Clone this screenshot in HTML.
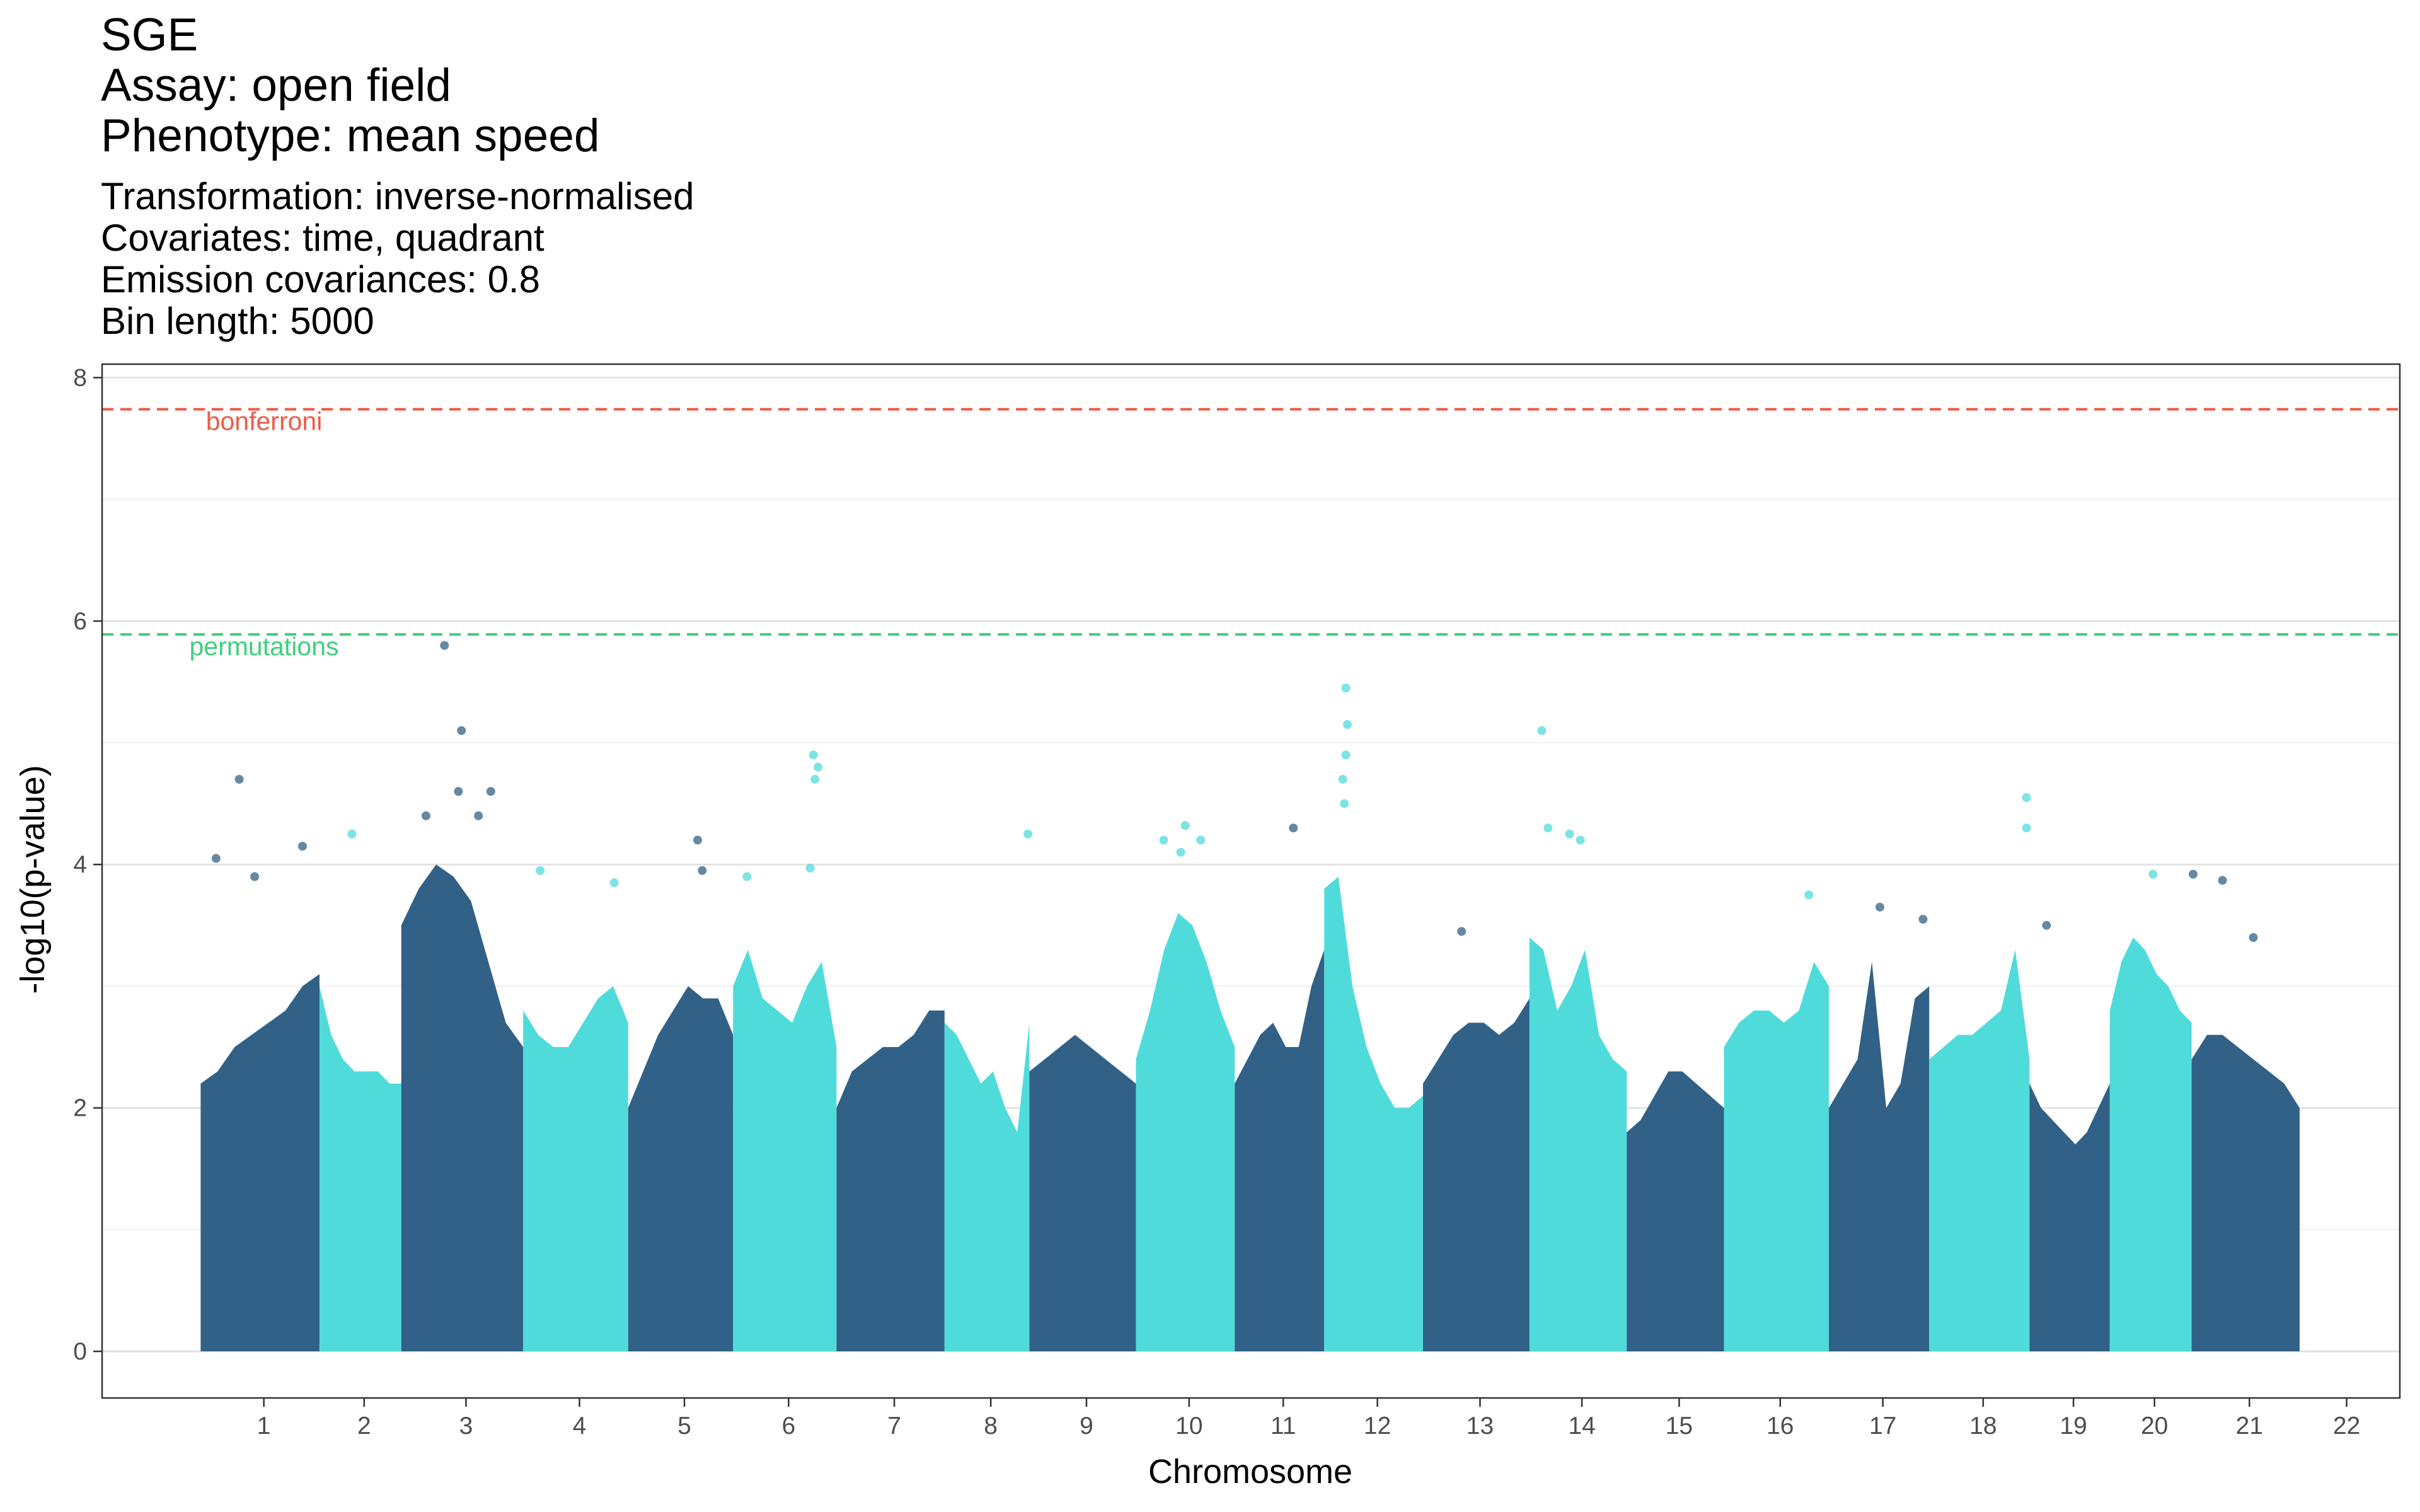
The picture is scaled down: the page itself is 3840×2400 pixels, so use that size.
<!DOCTYPE html>
<html><head><meta charset="utf-8">
<style>
html,body{margin:0;padding:0;background:#fff;}
svg{display:block;font-family:"Liberation Sans",Arial,sans-serif;}
</style></head>
<body>
<svg id="chart" width="3840" height="2400" viewBox="0 0 3840 2400" xmlns="http://www.w3.org/2000/svg">
<rect width="3840" height="2400" fill="#fff"/>
<g fill="#000">
<text x="160" y="80" font-size="73">SGE</text>
<text x="160" y="160" font-size="73">Assay: open field</text>
<text x="160" y="240" font-size="73">Phenotype: mean speed</text>
<text x="160" y="332" font-size="60">Transformation: inverse-normalised</text>
<text x="160" y="398" font-size="60">Covariates: time, quadrant</text>
<text x="160" y="464" font-size="60">Emission covariances: 0.8</text>
<text x="160" y="530" font-size="60">Bin length: 5000</text>
</g>
<g id="grid"></g>
<g id="marks"></g>
<g id="thresholds"></g>
<rect x="162" y="578" width="3646" height="1641" fill="none" stroke="#333" stroke-width="2.5"/>
<g id="axes"></g>
<text transform="translate(70,1396) rotate(-90)" text-anchor="middle" font-size="54">-log10(p-value)</text>
<text x="1984" y="2354" text-anchor="middle" font-size="54">Chromosome</text>
</svg>
<script>
const chromosomes = ["1","2","3","4","5","6","7","8","9","10","11","12","13","14","15","16","17","18","19","20","21"];
const chromLengths = [77,53,79,68,68,67,70,55,69,64,58,64,69,63,63,68,65,65,52,53,70];
const profiles = [
 [2.2,2.3,2.5,2.6,2.7,2.8,3.0,3.1],
 [3.0,2.6,2.4,2.3,2.3,2.3,2.2,2.2],
 [3.5,3.8,4.0,3.9,3.7,3.2,2.7,2.5],
 [2.8,2.6,2.5,2.5,2.7,2.9,3.0,2.7],
 [2.0,2.3,2.6,2.8,3.0,2.9,2.9,2.6],
 [3.0,3.3,2.9,2.8,2.7,3.0,3.2,2.5],
 [2.0,2.3,2.4,2.5,2.5,2.6,2.8,2.8],
 [2.7,2.6,2.4,2.2,2.3,2.0,1.8,2.7],
 [2.3,2.4,2.5,2.6,2.5,2.4,2.3,2.2],
 [2.4,2.8,3.3,3.6,3.5,3.2,2.8,2.5],
 [2.2,2.4,2.6,2.7,2.5,2.5,3.0,3.3],
 [3.8,3.9,3.0,2.5,2.2,2.0,2.0,2.1],
 [2.2,2.4,2.6,2.7,2.7,2.6,2.7,2.9],
 [3.4,3.3,2.8,3.0,3.3,2.6,2.4,2.3],
 [1.8,1.9,2.1,2.3,2.3,2.2,2.1,2.0],
 [2.5,2.7,2.8,2.8,2.7,2.8,3.2,3.0],
 [2.0,2.2,2.4,3.2,2.0,2.2,2.9,3.0],
 [2.4,2.5,2.6,2.6,2.7,2.8,3.3,2.4],
 [2.2,2.0,1.9,1.8,1.7,1.8,2.0,2.2],
 [2.8,3.2,3.4,3.3,3.1,3.0,2.8,2.7],
 [2.4,2.6,2.6,2.5,2.4,2.3,2.2,2.0]
];
const pointChrom = [0,0,0,0,1,2,2,2,2,2,2,3,3,4,4,5,5,5,5,5,7,9,9,9,9,10,11,11,11,11,11,12,13,13,13,13,15,16,16,17,17,18,19,20,20,20];
const pointPos =   [25,10,66,35,21,28,39,37,16,58,50,11,59,45,48,52,55,53,50,9,54,32,42,18,29,38,14,15,14,12,13,25,8,12,26,33,55,33,61,63,63,11,28,1,20,40];
const pointVal =   [4.7,4.05,4.15,3.9,4.25,5.8,5.1,4.6,4.4,4.6,4.4,3.95,3.85,4.2,3.95,4.9,4.8,4.7,3.97,3.9,4.25,4.32,4.2,4.2,4.1,4.3,5.45,5.15,4.9,4.7,4.5,3.45,5.1,4.3,4.25,4.2,3.75,3.65,3.55,4.55,4.3,3.5,3.92,3.92,3.87,3.4];
const yTicks = [0,2,4,6,8];
const yMinor = [1,3,5,7];
const thresholdNames = ["bonferroni","permutations"];
const thresholdVals = [7.74,5.89];

const NS="http://www.w3.org/2000/svg";
const K=2.449;
function xs(g){return (130+g)*K;}
function ys(v){return 2145 - v*193.2;}
function mk(tag,attrs,parent){const e=document.createElementNS(NS,tag);for(const k in attrs)e.setAttribute(k,attrs[k]);parent.appendChild(e);return e;}
const starts=[];let cum=0;chromLengths.forEach(l=>{starts.push(cum);cum+=l;});
const grid=document.getElementById('grid'),marks=document.getElementById('marks'),axes=document.getElementById('axes'),th=document.getElementById('thresholds');
yMinor.forEach(v=>{const l=mk('line',{x1:162,x2:3808,y1:ys(v),y2:ys(v),stroke:'#ebebeb','stroke-width':1.5},grid);

});
yTicks.forEach(v=>{const l=mk('line',{x1:162,x2:3808,y1:ys(v),y2:ys(v),stroke:'#e3e3e3','stroke-width':3},grid);


const t=mk('line',{x1:148,x2:162,y1:ys(v),y2:ys(v),stroke:'#333','stroke-width':2.5},axes);


const tx=mk('text',{x:138,y:ys(v)+13,'text-anchor':'end','font-size':39,fill:'#4d4d4d'},axes);tx.textContent=v;

});
const colors=['#316186','#50dbdb'];
chromosomes.forEach((c,i)=>{
 const col=colors[i%2];const p=profiles[i];const s=starts[i],L=chromLengths[i];
 let d='M'+xs(s)+','+ys(0);
 p.forEach((v,j)=>{d+=' L'+xs(s+L*j/(p.length-1))+','+ys(v);});
 d+=' L'+xs(s+L)+','+ys(0)+' Z';
 const path=mk('path',{d:d,fill:col},marks);
 
 
 const cx=xs(s+L/2)+6;
 const t=mk('line',{x1:cx,x2:cx,y1:2219,y2:2233,stroke:'#333','stroke-width':2.5},axes);
 
 
 const tx=mk('text',{x:cx,y:2276,'text-anchor':'middle','font-size':39,fill:'#4d4d4d'},axes);tx.textContent=c;
 
 
});
{const cx=xs(cum+28)+6;
 const t=mk('line',{x1:cx,x2:cx,y1:2219,y2:2233,stroke:'#333','stroke-width':2.5},axes);
 
 
 const tx=mk('text',{x:cx,y:2276,'text-anchor':'middle','font-size':39,fill:'#4d4d4d'},axes);tx.textContent='22';
 
 }
pointVal.forEach((v,k)=>{const ci=pointChrom[k];
 const pt=mk('circle',{cx:xs(starts[ci]+pointPos[k]),cy:ys(v),r:7,fill:colors[ci%2],'fill-opacity':0.75},marks);
 
 });
const thCols=['#ee5a45','#3fcf7d'];
thresholdVals.forEach((v,i)=>{
 const l=mk('line',{x1:162,x2:3808,y1:ys(v),y2:ys(v),stroke:thCols[i],'stroke-width':4,'stroke-dasharray':'18,11'},th);
 
 
 const t=mk('text',{x:419,y:ys(v)+33,'text-anchor':'middle','font-size':41,fill:thCols[i]},th);t.textContent=thresholdNames[i];
 
 
});
</script>
</body></html>
